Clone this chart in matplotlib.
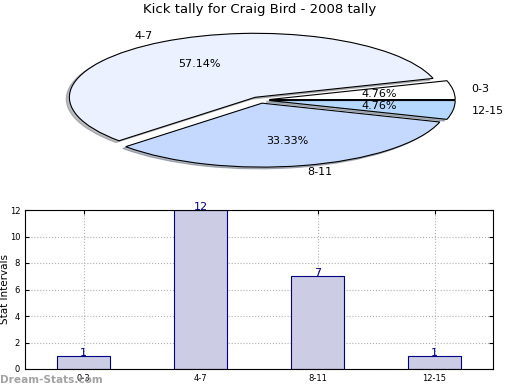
import matplotlib
matplotlib.use('Agg')
import matplotlib.pyplot as plt

# Data
categories = ['0-3', '4-7', '8-11', '12-15']
tallies = [1, 12, 7, 1]
pie_colors = ['#FFFFFF', '#EBF1FE', '#C5D9FE', '#B6D7FE']

fig = plt.figure(figsize=(5.2, 3.9), dpi=100)

# Pie (stretched, not equal aspect)
ax1 = fig.add_axes([0.0, 0.5385, 1.0, 0.41])
wedges, texts, autotexts = ax1.pie(tallies, labels=categories, colors=pie_colors,
                                   explode=[0.05] * 4, autopct='%.2f%%',
                                   shadow={'ox': -0.012, 'oy': -0.02, 'shade': 0.5},
                                   startangle=0, wedgeprops={'edgecolor': 'black', 'linewidth': 0.8},
                                   textprops={'fontsize': 8})
ax1.set_aspect('auto')
ax1.set_xlim(-1.398, 1.398)
ax1.set_ylim(-1.25, 1.25)
ax1.axis('off')
fig.text(0.5, 1 - 10 / 390, 'Kick tally for Craig Bird - 2008 tally', ha='center', va='center', fontsize=9.5)

# Bars
ax2 = fig.add_axes([25 / 520, 21 / 390, 468 / 520, 159 / 390])
x = range(len(categories))
ax2.bar(x, tallies, width=0.45, color='#CCCCE5', edgecolor='#000080', linewidth=0.8, zorder=2)
for i, v in zip(x, tallies):
    ax2.text(i, v - 0.15, str(v), ha='center', va='bottom', color='#000080', fontsize=8, zorder=3)
ax2.set_xlim(-0.5, 3.5)
ax2.set_ylim(0, 12)
ax2.set_yticks(range(0, 13, 2))
ax2.set_xticks(list(x))
ax2.set_xticklabels(categories)
ax2.tick_params(labelsize=6, direction='in', top=True, right=True, length=3)
ax2.grid(True, linestyle=':', color='#b0b0b0', linewidth=0.8, zorder=0)
ax2.set_ylabel('Stat Intervals', fontsize=7.5, va='center')
ax2.yaxis.set_label_coords(-0.043, 0.5)
ax2.set_xlabel('Frequency', fontsize=8, labelpad=5)

fig.text(0.0, 1 - 380 / 390, 'Dream-Stats.com', ha='left', va='center', fontsize=7.6,
         color='#999999', fontweight='bold', alpha=0.9)

fig.savefig('out.png', dpi=100)
